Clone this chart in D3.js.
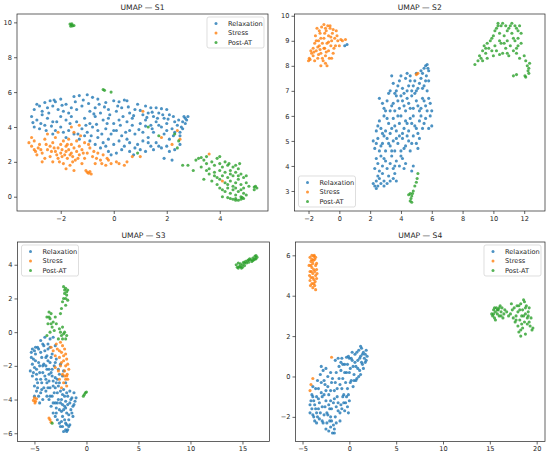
<!DOCTYPE html>
<html>
<head>
<meta charset="utf-8">
<script src="https://cdn.jsdelivr.net/npm/d3@7"></script>
<style>
  body { margin: 0; background: #fff; }
  svg text { font-family: "DejaVu Sans", sans-serif; fill: #262626; }
</style>
</head>
<body>
<div id="chart"></div>
<script>
// labels and colours
var groups = ["Relaxation", "Stress", "Post-AT"];
var colors = ["#1f77b4", "#ff7f0e", "#2ca02c"];
var titles = ["UMAP \u2014 S1", "UMAP \u2014 S2", "UMAP \u2014 S3", "UMAP \u2014 S4"];

// tick values per panel
var s1XTicks = [-2, 0, 2, 4], s1YTicks = [0, 2, 4, 6, 8, 10];
var s2XTicks = [-2, 0, 2, 4, 6, 8, 10, 12], s2YTicks = [3, 4, 5, 6, 7, 8, 9, 10];
var s3XTicks = [-5, 0, 5, 10, 15], s3YTicks = [-6, -4, -2, 0, 2, 4];
var s4XTicks = [-5, 0, 5, 10, 15, 20], s4YTicks = [-2, 0, 2, 4, 6];

// ---- S1 points ----
var s1Relax = [
[-2.6,5.4],[-2.4,5.5],[-2.2,5.45],[-2.0,5.6],[-1.8,5.3],[-1.5,5.75],[-1.3,5.8],[-1.0,5.85],[-0.8,5.7],[-0.6,5.6],[-0.3,5.4],[0,5.5],[0.2,5.45],[0.4,5.55],[0.5,5.5],[0.9,5.3],[1.2,5.2],[1.4,5.1],[1.6,5.1],[1.8,5.05],[2.0,5.0],
[-3.0,5.0],[-2.8,5.2],[-2.5,5.1],[-2.3,5.2],[-2.1,5.0],[-1.9,4.9],[-1.6,5.1],[-1.4,5.0],[-1.2,5.2],[-0.9,4.9],[-0.7,5.1],[-0.5,4.8],[-0.2,5.0],[0.1,4.9],[0.3,5.1],[0.6,4.8],[0.8,5.0],[1.1,4.7],[1.3,4.8],[1.5,4.6],[1.7,4.8],[1.9,4.5],[2.1,4.7],[2.3,4.3],
[-3.1,4.6],[-2.9,4.4],[-2.7,4.7],[-2.5,4.5],[-2.3,4.3],[-2.0,4.6],[-1.8,4.4],[-1.6,4.6],[-1.4,4.3],[-1.1,4.5],[-0.9,4.2],[-0.7,4.6],[-0.4,4.4],[-0.2,4.5],[0.0,4.2],[0.2,4.4],[0.5,4.3],[0.7,4.5],[1.0,4.2],[1.2,4.4],[1.4,4.1],[1.6,4.3],[1.8,4.0],[2.0,4.2],[2.2,3.9],[2.4,4.1],[2.6,4.3],[2.7,4.5],[2.75,4.4],[2.8,4.6],[2.65,4.6],[2.7,4.2],
[-3.0,4.0],[-2.8,3.9],[-2.6,4.1],[-2.2,3.8],[-2.0,4.0],[-1.7,3.8],[-1.5,3.6],[-1.2,3.9],[-1.0,3.7],[-0.8,4.0],[-0.6,3.8],[-0.3,3.9],[-0.1,3.6],[0.1,3.8],[0.3,3.5],[0.6,3.8],[0.8,3.6],[1.1,3.7],[1.3,3.4],[1.5,3.7],[1.9,3.6],[2.1,3.3],[2.3,3.7],[2.5,3.5],[2.6,3.9],
[-1.8,3.4],[-1.3,3.3],[-0.9,3.2],[-0.6,3.4],[-0.4,3.1],[-0.2,3.3],[0.0,3.0],[0.2,3.2],[0.4,2.9],[0.6,3.1],[0.9,3.0],[1.1,3.2],[1.4,2.9],[1.6,3.1],[1.8,2.8],[2.0,2.9],[2.3,2.7],[2.5,3.0],
[-0.5,2.8],[-0.2,2.6],[0.1,2.5],[0.3,2.7],[0.6,2.6],[0.8,2.8],[1.2,2.6],[1.5,2.7],[1.9,2.2],[2.2,2.1],[-0.1,2.4],
[-2.9,5.3],[-2.7,4.9],[-2.45,4.8],[-2.25,5.55],[-1.95,5.25],[-1.7,4.8],[-1.45,5.45],[-1.15,5.55],[-0.95,5.35],[-0.75,4.75],[-0.55,5.3],[-0.35,5.15],[-0.15,4.7],[0.15,5.2],[0.35,4.6],[0.55,5.15],[0.75,4.65],[1.0,4.95],[1.25,4.55],[1.45,4.85],[1.65,4.5],[1.85,4.7],[2.05,4.45],[2.25,4.6],[2.45,4.4],
[-3.05,4.25],[-2.75,4.2],[-2.55,3.8],[-2.35,4.05],[-2.15,4.3],[-1.9,3.7],[-1.65,4.2],[-1.35,3.6],[-1.05,4.1],[-0.85,3.5],[-0.65,4.15],[-0.45,3.6],[-0.25,4.2],[0.0,3.8],[0.25,4.1],[0.45,3.7],[0.7,4.1],[0.95,3.85],[1.2,4.05],[1.45,3.9],[1.7,4.1],[2.0,3.8],[2.25,3.5],[2.5,3.7],[2.55,4.0],
[-0.7,3.0],[-0.3,2.9],[0.5,3.3],[0.75,2.4],[1.0,2.7],[1.3,3.1],[1.7,2.9],[2.1,2.6],[-1.1,3.5],[-2.3,3.6]
];
var s1Stress = [
[-3.2,3.1],[-3.1,2.9],[-3.0,2.7],[-3.0,3.2],[-2.9,2.4],[-2.85,2.8],[-2.8,3.0],[-2.7,2.5],[-2.6,2.2],[-2.6,3.3],[-2.5,2.7],[-2.5,3.6],[-2.4,2.9],[-2.4,2.3],[-2.3,3.1],[-2.3,2.0],[-2.2,2.6],[-2.2,3.4],[-2.1,2.2],[-2.1,2.8],[-2.0,3.0],[-2.0,2.5],[-1.95,2.7],[-1.9,1.9],[-1.9,3.2],[-1.85,2.4],[-1.8,2.6],[-1.8,2.9],[-1.75,2.2],[-1.7,3.3],[-1.7,2.7],[-1.65,1.8],[-1.6,2.5],[-1.6,3.0],[-1.55,2.3],[-1.5,2.8],[-1.5,3.7],[-1.45,2.1],[-1.4,2.6],[-1.4,3.2],[-1.3,2.4],[-1.3,2.9],[-1.2,1.9],[-1.2,2.7],[-1.1,2.2],[-1.1,3.1],[-1.0,2.5],[-1.0,1.4],[-0.95,1.35],[-0.9,1.45],[-0.85,1.3],[-1.05,1.5],[-0.9,2.8],[-0.8,2.3],[-0.7,1.9],[-0.6,2.5],[-0.5,2.1],[-0.4,2.4],[-0.3,1.8],[-0.25,2.2],[-0.1,1.9],[0.1,2.0],[0.2,1.9],[0.4,1.8],[0.5,2.0],[0.7,2.3],[1.0,2.3],[-1.6,4.0],[-1.3,4.1],[1.1,4.9],[1.8,3.4],[2.2,3.0],[2.5,3.3],[2.4,3.8],[-2.1,3.7],[-1.8,1.6],[-1.5,1.5],[-2.7,2.0],[3.6,2.45],[4.1,0.9],
[-3.1,3.4],[-2.95,2.6],[-2.75,2.7],[-2.55,3.0],[-2.35,2.6],[-2.25,2.8],[-2.15,2.4],[-2.05,2.0],[-1.95,2.3],[-1.75,3.0],[-1.65,2.4],[-1.55,2.0],[-1.35,2.2],[-1.25,3.5],[-1.15,2.5],[-0.95,3.0],[-0.75,2.6],[-0.65,2.2],[-0.45,1.9],[-0.2,2.1]
];
var s1Post = [
[-1.65,9.9],[-1.6,9.85],[-1.55,9.8],[-1.5,9.82],[-1.62,9.78],[-1.58,9.92],
[-0.4,6.15],[-0.35,6.1],[-0.1,6.0],
[1.3,4.0],[1.7,3.5],[2.3,3.6],[2.4,2.8],[0.9,2.5],[2.45,3.2],
[2.6,1.8],[2.8,1.8],[3.0,1.5],[3.1,2.1],[3.2,2.2],[3.3,2.25],[3.4,2.1],[3.5,1.9],[3.3,1.7],[3.6,1.6],[3.7,2.0],[3.8,1.8],[3.9,2.2],[4.0,1.9],[3.6,1.3],[3.8,1.4],[3.9,1.1],[4.0,1.5],[4.1,1.7],[4.2,2.0],[4.3,1.8],[4.4,1.5],[4.5,1.7],[4.6,1.4],[4.7,1.6],[4.8,1.3],[4.9,1.1],[5.0,1.2],[3.9,0.7],[4.0,0.5],[4.1,1.2],[4.2,0.8],[4.3,1.1],[4.4,0.9],[4.5,1.2],[4.6,0.8],[4.7,1.0],[4.8,0.7],[4.9,0.5],[5.0,0.8],[5.1,0.6],[4.2,0.3],[4.3,0.5],[4.4,0.2],[4.5,0.4],[4.6,0.1],[4.7,0.3],[4.8,0.0],[4.9,0.2],[4.4,-0.1],[4.5,-0.15],[4.6,-0.1],[4.7,-0.2],[4.8,-0.15],[4.9,-0.1],[5.0,0.1],[5.3,0.55],[5.35,0.6],[5.4,0.5],[5.3,0.4],[4.1,0.0],[4.3,-0.05],[3.4,1.0],[3.7,0.9],[4.0,1.0],[4.2,1.4],[4.5,0.6],[4.75,1.9],[4.6,1.8],[3.5,2.3],
[3.5,1.5],[3.8,1.2],[4.1,0.4],[4.3,0.7],[4.6,0.5],[4.8,0.4],[4.4,1.3],[4.7,1.2],[4.6,-0.2],[4.85,-0.05],[4.35,1.9],[4.0,2.3]
];

// ---- S2 points ----
var s2Relax = [
[0.5,8.85],[0.35,8.8],
[2.2,3.3],[2.3,3.2],[2.4,3.4],[2.5,3.2],[2.6,3.5],[2.7,3.3],[2.9,3.4],[3.1,3.3],[3.3,3.4],[3.5,3.5],[3.7,3.4],[2.5,3.6],[2.8,3.7],
[2.3,3.9],[2.5,4.1],[2.6,3.8],[2.8,4.0],[2.9,4.3],[3.1,3.9],[3.3,4.1],[3.5,3.9],[3.7,4.2],[3.9,4.0],[4.1,4.3],[4.3,4.1],[2.7,4.4],[3.4,4.4],[4.8,4.0],[4.7,3.8],
[2.2,5.0],[2.3,4.7],[2.5,5.1],[2.6,4.6],[2.8,4.9],[3.0,4.6],[3.1,5.1],[3.3,4.8],[3.5,5.0],[3.6,4.6],[3.8,4.9],[4.0,4.6],[4.1,5.1],[4.3,4.8],[4.5,5.0],[4.6,4.6],[4.8,5.2],[5.0,4.9],[5.2,5.1],[3.9,5.2],[2.9,5.2],
[2.4,5.4],[2.6,5.8],[2.7,5.5],[2.9,6.0],[3.0,5.4],[3.2,5.7],[3.4,5.5],[3.5,5.9],[3.7,5.4],[3.9,5.7],[4.0,6.0],[4.2,5.5],[4.3,5.8],[4.5,5.4],[4.7,5.7],[4.8,6.0],[5.0,5.5],[5.2,5.8],[5.4,5.5],[5.6,5.9],[5.9,6.0],[6.0,5.6],
[2.6,6.7],[2.9,6.3],[3.1,6.6],[3.3,6.2],[3.5,6.5],[3.7,6.8],[3.9,6.3],[4.1,6.6],[4.3,6.2],[4.5,6.5],[4.7,6.8],[4.8,6.3],[5.0,6.6],[5.2,6.2],[5.4,6.7],[5.6,6.4],[5.8,6.7],[6.0,6.2],
[3.3,7.0],[3.5,7.3],[3.7,7.0],[3.9,7.4],[4.1,7.1],[4.3,7.5],[4.5,7.2],[4.7,7.0],[4.9,7.4],[5.1,7.1],[5.3,7.5],[5.5,7.2],[5.7,7.0],[5.8,7.4],[4.2,6.9],
[4.4,7.7],[4.6,7.6],[5.0,7.7],[5.3,7.8],[5.5,7.9],[5.6,8.0],[5.7,8.05],[5.8,7.8],[5.65,7.6],
[2.4,3.1],[2.9,3.2],[3.2,3.6],[3.6,3.7],[2.4,4.3],[3.0,4.2],[3.6,4.0],[4.0,4.4],[4.2,3.9],[2.4,4.9],[2.7,4.8],[3.2,4.9],[3.4,4.6],[3.7,5.1],[4.2,4.7],[4.4,5.2],[4.7,4.9],[5.1,4.7],
[2.5,5.6],[2.8,5.3],[3.1,5.9],[3.3,5.3],[3.6,5.6],[3.8,6.0],[4.1,5.3],[4.4,5.7],[4.6,5.9],[4.9,5.6],[5.1,5.3],[5.3,6.0],[5.5,5.7],[5.8,5.5],
[2.8,6.5],[3.0,6.2],[3.2,6.9],[3.4,6.4],[3.6,6.2],[3.8,6.6],[4.0,6.8],[4.2,6.4],[4.4,6.7],[4.6,6.3],[4.9,6.9],[5.1,6.4],[5.3,6.3],[5.5,6.6],[5.7,6.2],[5.9,6.5],
[3.4,7.6],[3.6,6.9],[3.8,7.2],[4.0,7.6],[4.4,7.0],[4.6,7.4],[4.8,7.2],[5.0,7.0],[5.2,7.3],[5.4,7.1],[5.6,7.4],[5.4,7.7],[5.75,7.9]
];
var s2Stress = [
[-2.0,8.2],[-1.95,8.3],[-1.9,8.25],[-1.8,8.5],[-1.7,8.4],[-1.7,8.7],[-1.6,8.9],[-1.55,9.2],[-1.5,8.6],[-1.45,9.5],[-1.4,8.3],[-1.35,9.0],[-1.3,8.8],[-1.25,9.3],[-1.2,8.5],[-1.15,9.55],[-1.1,8.9],[-1.05,8.2],[-1.0,9.65],[-1.0,9.1],[-0.95,8.7],[-0.9,8.4],[-0.85,9.4],[-0.8,8.0],[-0.8,8.9],[-0.75,9.6],[-0.7,8.6],[-0.7,9.2],[-0.65,8.3],[-0.6,9.5],[-0.55,8.8],[-0.5,9.0],[-0.45,9.3],[-0.4,8.5],[-0.3,9.1],[-0.25,8.8],[-0.2,9.4],[-0.1,9.0],[0.0,8.8],[0.1,9.05],[0.2,9.0],[0.4,9.05],[-0.9,8.1],[-1.2,8.0],[-1.6,8.2],[-1.3,9.4],[-0.5,8.3],[-1.0,8.7],[-0.6,9.6],[-1.4,8.75],
[-1.85,8.6],[-1.65,8.55],[-1.5,9.0],[-1.35,8.45],[-1.2,9.1],[-1.1,8.3],[-0.95,9.3],[-0.85,8.55],[-0.7,8.95],[-0.55,9.15],[-0.35,8.7],[-0.15,9.2],[-1.25,8.65],[-0.9,9.5],[-0.4,9.45],
[5.0,7.65],[5.1,7.7]
];
var s2Post = [
[4.6,2.6],[4.65,2.7],[4.7,2.8],[4.75,2.9],[4.8,3.0],[4.6,2.9],[4.5,2.85],[4.9,3.2],[5.0,3.35],[5.05,3.5],[5.1,3.7],[4.7,2.55],
[8.8,8.05],[9.0,8.2],[9.1,8.4],[9.2,8.3],[9.3,8.6],[9.4,8.8],[9.5,8.5],[9.6,8.9],[9.7,8.7],[9.8,9.0],[9.9,8.6],[10.0,9.2],[10.1,8.8],[10.2,9.5],[10.2,8.6],[10.3,9.7],[10.4,9.3],[10.5,8.9],[10.5,9.6],[10.6,8.5],[10.7,9.2],[10.8,9.6],[10.8,8.7],[10.9,9.0],[11.0,9.5],[11.0,8.4],[11.1,8.8],[11.2,9.3],[11.2,9.7],[11.3,8.6],[11.4,9.0],[11.4,9.6],[11.5,8.7],[11.6,9.4],[11.6,9.1],[11.7,9.6],[11.8,8.9],[11.5,8.5],[11.7,8.3],[12.0,8.4],[12.1,8.2],[12.2,8.0],[12.3,7.9],[12.35,8.1],[12.25,7.8],[12.3,7.7],[12.1,7.55],[12.05,7.6],[11.5,7.65],[11.3,7.6],[10.3,9.6],[10.6,9.7],[9.6,8.3],[10.0,8.4],[10.4,8.45],[9.3,8.2],
[9.5,8.7],[9.9,9.1],[10.1,9.4],[10.4,9.0],[10.7,8.9],[10.9,9.4],[11.1,9.6],[11.3,9.1],[11.5,9.5],[11.8,9.3],[10.9,8.5],[11.6,8.8]
];

// ---- S3 points ----
var s3Relax = [
[-5.2,-1.0],[-5.1,-1.6],[-5.0,-2.1],[-4.9,-1.3],[-4.8,-2.8],[-4.7,-0.9],[-4.7,-3.3],[-4.6,-1.8],[-4.5,-2.4],[-4.4,-1.2],[-4.3,-3.0],[-4.2,-2.0],[-4.1,-0.8],[-4.0,-2.6],[-3.9,-1.5],[-3.9,-3.5],[-3.8,-2.2],[-3.7,-1.0],[-3.6,-2.9],[-3.5,-1.8],[-3.5,-3.8],[-3.4,-2.4],[-3.3,-1.3],[-3.2,-3.2],[-3.1,-2.0],[-3.0,-4.2],[-3.0,-2.7],[-2.9,-1.6],[-2.8,-3.6],[-2.7,-2.2],[-2.6,-4.6],[-2.6,-3.0],[-2.5,-1.9],[-2.4,-4.0],[-2.3,-2.6],[-2.3,-5.0],[-2.2,-3.4],[-2.1,-4.4],[-2.0,-5.4],[-2.0,-3.0],[-1.9,-4.8],[-1.8,-5.8],[-1.8,-3.8],[-1.7,-5.2],[-1.6,-4.2],[-1.5,-4.6],[-1.4,-3.9],[-1.3,-4.4],[-1.1,-4.1],[-2.8,-5.2],[-2.5,-5.6],[-2.2,-5.9],[-1.9,-5.9],[-3.2,-4.8],[-3.4,-4.4],[-4.2,-4.0],[-4.6,-3.8],[-5.0,-3.2],[-5.3,-1.5],[-4.9,-0.9],[-4.4,-3.6],[-3.7,-3.3],[-3.3,-3.8],[-2.9,-4.5],[-2.5,-3.5],[-2.1,-3.8],[-1.6,-3.5],[-2.7,-4.0],[-3.6,-4.0],[-3.0,-3.3],[-4.1,-1.9],[-3.8,-1.4],[-3.5,-0.9],[-3.2,-0.3],[-4.4,-0.5],[-4.0,-0.3],[-2.2,-2.3],[-5.4,-2.3],[-5.2,-2.6],[-4.8,-2.2],[-1.9,-5.5],[-1.7,-5.6],[-2.4,-5.3],[-3.0,-5.0],[-2.3,-4.3],[-1.2,-3.6],[-4.5,-4.2],[-5.0,-3.8],[-3.3,-2.6],[-2.8,-2.8],[-3.6,-2.5],[-3.9,-2.8],[-2.0,-4.1],
[-5.3,-1.2],[-5.2,-1.9],[-5.1,-2.4],[-5.0,-1.1],[-4.9,-1.7],[-4.8,-2.5],[-4.7,-3.0],[-4.6,-1.0],[-4.5,-2.0],[-4.4,-2.8],[-4.3,-1.5],[-4.2,-2.4],[-4.1,-3.3],[-4.0,-1.1],[-3.9,-2.0],[-3.8,-3.0],[-3.7,-1.7],[-3.6,-2.2],[-3.5,-3.3],[-3.4,-1.5],[-3.3,-2.2],[-3.2,-2.9],[-3.1,-3.6],[-3.0,-1.8],[-2.9,-3.0],[-2.8,-4.2],[-2.7,-3.2],[-2.6,-2.5],[-2.5,-4.2],[-2.4,-4.7],[-2.3,-3.7],[-2.2,-4.6],[-2.1,-5.2],[-2.0,-4.5],[-1.9,-3.6],[-1.8,-4.3],[-1.7,-4.9],[-1.6,-5.5],[-1.5,-4.0],[-1.4,-4.8],[-2.6,-5.4],[-2.9,-4.8],[-3.2,-4.2],[-3.8,-3.8],[-4.3,-3.4],[-4.8,-3.5],[-1.2,-4.3],[-1.0,-3.9],[-1.3,-5.0],[-2.0,-5.8],[-2.3,-5.6],[-3.5,-0.4],[-3.7,-0.7],[-4.2,-0.7],[-3.0,-0.8]
];
var s3Stress = [
[-2.5,-0.6],[-2.3,-0.8],[-2.1,-1.0],[-2.0,-1.3],[-1.9,-1.6],[-1.8,-1.9],[-1.7,-2.2],[-1.85,-2.5],[-2.0,-2.8],[-2.2,-3.0],[-1.9,-3.2],[-2.4,-1.2],[-2.6,-1.5],[-2.8,-1.0],[-2.2,-1.7],[-2.5,-2.0],[-2.7,-2.3],[-3.0,-1.4],[-3.2,-1.1],[-3.4,-0.9],[-2.1,-2.3],[-2.3,-2.5],[-1.8,-2.8],[-2.9,-0.7],[-5.0,-3.9],[-4.9,-4.1],[-4.8,-3.95],[-5.1,-4.05],[-4.95,-4.2],[-3.5,-5.2],[-3.4,-5.35],[-3.6,-5.1],[-2.6,-2.8],[-2.4,-3.3],[-3.0,-2.1],
[-2.2,-1.4],[-2.0,-2.0],[-2.4,-1.8],[-1.9,-2.6],[-2.6,-1.1],[-2.1,-2.6]
];
var s3Post = [
[14.4,4.0],[14.5,3.85],[14.6,4.1],[14.7,3.9],[14.8,4.05],[14.9,3.8],[15.0,4.0],[15.1,4.15],[15.2,3.95],[15.3,4.2],[15.4,4.1],[15.5,4.25],[15.6,4.15],[15.8,4.3],[15.9,4.2],[16.0,4.4],[16.1,4.3],[16.2,4.5],[16.3,4.55],[16.4,4.45],[14.6,3.8],[15.0,3.85],[16.0,4.25],[15.7,4.35],[16.3,4.35],[15.2,4.1],[15.6,4.3],[14.8,3.9],[16.2,4.35],
[-2.2,2.7],[-2.0,2.6],[-1.8,2.5],[-2.1,2.3],[-1.9,2.2],[-2.2,2.0],[-1.8,1.9],[-2.3,1.8],[-2.0,1.6],[-2.4,1.4],[-2.5,1.1],[-3.6,1.2],[-3.4,1.1],[-3.8,0.9],[-3.5,0.8],[-3.2,0.6],[-3.7,0.5],[-3.3,0.3],[-3.0,0.9],[-3.5,0.0],[-3.8,-0.2],[-2.6,0.2],[-2.3,0.3],[-2.1,0.0],[-2.4,-0.2],[-2.0,-0.4],[-2.2,-0.1],[-2.7,-0.4],[-3.1,0.1],[-2.9,0.5],[-1.9,-0.2],
[-2.1,2.5],[-1.9,2.4],[-2.0,2.0],[-3.6,0.9],[-3.4,0.5],[-2.5,0.0],[-2.3,-0.4],
[-0.1,-3.6],[-0.2,-3.7],[-0.3,-3.8],[0.0,-3.55],[-3.3,-5.4]
];

// ---- S4 points ----
var s4Relax = [
[-4.1,-1.2],[-4.0,-1.6],[-3.9,-1.0],[-3.8,-2.0],[-3.7,-1.4],[-3.6,-0.6],[-3.5,-1.8],[-3.4,-0.2],[-3.3,-1.1],[-3.2,-2.1],[-3.1,0.1],[-3.0,-0.8],[-2.9,-1.5],[-2.8,0.3],[-2.7,-1.9],[-2.6,-0.4],[-2.5,-1.2],[-2.4,-2.3],[-2.3,0.0],[-2.2,-0.9],[-2.1,-1.6],[-2.0,-2.5],[-1.9,-0.3],[-1.8,-2.8],[-1.7,-1.3],[-1.6,-0.7],[-1.5,-2.0],[-1.4,0.2],[-1.3,-1.0],[-1.2,-1.7],[-1.1,0.5],[-1.0,-0.4],[-0.9,-1.4],[-0.8,0.9],[-0.7,-0.1],[-0.6,-0.9],[-0.5,0.6],[-0.4,-1.3],[-0.3,0.2],[-0.2,-0.6],[-0.1,1.0],[0.0,-1.2],[0.1,0.4],[0.2,-0.2],[0.3,0.8],[0.5,0.1],[0.6,1.1],[0.7,0.5],[0.8,-0.1],[0.9,0.8],[1.0,1.3],[1.1,0.3],[1.2,1.0],[1.3,1.4],[1.4,0.6],[1.5,1.2],[1.6,0.9],[1.7,1.1],[1.8,0.8],[1.9,1.0],[1.2,0.1],[0.4,-0.5],[-0.5,-1.7],[-1.0,-2.2],[-1.6,-2.6],[-2.3,-1.9],[-2.9,-2.2],[-3.5,-2.3],[-3.9,-0.5],[-3.0,0.5],[-2.5,0.4],[-2.0,0.2],[-1.5,0.8],[-1.2,0.9],[-0.9,0.7],[-0.3,0.95],[0.0,0.9],[-2.2,-2.7],[-1.9,-2.2],[-3.3,-1.6],[-2.7,-0.9],[-2.0,-1.2],[-1.4,-1.5],[-0.7,-1.0],[-0.2,-1.5],[-0.1,-1.8],[0.3,1.2],[-2.5,-2.6],[-3.7,-2.2],[-4.2,-1.8],
[-4.2,-1.4],[-4.0,-0.9],[-3.9,-1.9],[-3.8,-1.2],[-3.6,-1.6],[-3.5,-1.0],[-3.4,-2.0],[-3.3,-0.6],[-3.2,-1.3],[-3.1,-1.8],[-3.0,-0.3],[-2.9,-1.0],[-2.8,-2.3],[-2.7,-0.2],[-2.6,-1.5],[-2.5,-0.7],[-2.4,-1.8],[-2.3,-0.5],[-2.2,-1.4],[-2.1,-2.2],[-2.0,-0.7],[-1.9,-1.6],[-1.8,-0.1],[-1.7,-2.4],[-1.6,-1.1],[-1.5,-0.3],[-1.4,-2.3],[-1.3,-0.6],[-1.2,-1.3],[-1.1,-0.1],[-1.0,-1.8],[-0.9,0.3],[-0.8,-0.6],[-0.7,0.6],[-0.6,-1.3],[-0.5,0.2],[-0.4,-0.3],[-0.3,-1.0],[-0.2,0.6],[-0.1,-0.9],[0.0,0.2],[0.1,-0.3],[0.2,0.9],[0.4,0.5],[0.5,-0.2],[0.6,0.7],[0.8,1.2],[0.9,0.4],[1.0,0.0],[1.1,0.9],[1.3,0.7],[1.4,1.1],[1.5,0.4],[1.7,0.7],[1.8,1.3],[1.2,1.5],[-1.6,-2.8],[-2.0,-2.0],[-0.8,-1.6],[0.7,-0.2]
];
var s4Stress = [
[-4.2,5.9],[-4.0,6.0],[-3.8,5.95],[-3.7,5.8],[-4.1,5.7],[-3.9,5.6],[-3.6,5.5],[-4.3,5.5],[-4.0,5.4],[-3.5,5.3],[-3.8,5.3],[-4.2,5.2],[-3.9,5.1],[-3.6,5.0],[-4.1,4.9],[-3.8,4.8],[-3.5,4.85],[-4.0,4.6],[-3.7,4.5],[-3.9,4.4],[-3.6,4.3],[-4.2,4.75],[-3.5,5.6],[-3.75,6.0],[-4.05,5.2],[-3.65,4.7],[-4.25,5.0],[-3.85,5.75],[-3.45,5.1],[-4.15,4.5],
[-4.1,5.5],[-3.7,5.2],[-3.9,4.9],[-3.6,5.9],[-4.0,5.8],[-3.8,4.6],
[-1.9,0.95],[-3.9,-0.1],[-4.1,-0.4],[-4.2,-0.7]
];
var s4Post = [
[15.2,3.1],[15.3,3.0],[15.4,3.3],[15.5,2.9],[15.6,3.2],[15.7,3.4],[15.8,3.1],[15.9,3.3],[16.0,3.0],[16.1,3.5],[16.2,3.2],[16.3,3.4],[16.5,3.1],[16.6,3.3],[16.8,3.2],[17.0,3.0],[17.2,3.1],[17.4,3.3],[17.5,2.9],[17.6,3.4],[17.7,2.7],[17.8,3.0],[17.9,3.5],[18.0,2.5],[18.0,3.2],[18.1,2.2],[18.2,2.8],[18.3,3.6],[18.4,3.0],[18.5,2.4],[18.5,3.3],[18.6,3.8],[18.7,2.7],[18.8,3.1],[18.9,3.5],[19.0,2.6],[19.1,3.0],[19.2,3.4],[19.3,2.5],[19.4,2.9],[19.5,2.3],[19.6,2.4],[18.3,2.0],[18.7,3.7],[17.3,3.6],[16.4,2.9],[15.6,2.8],[18.8,2.1],[19.1,3.2],[18.1,3.5],
[15.4,3.1],[15.5,3.4],[15.8,3.3],[16.0,3.4],[16.2,3.0],[17.8,2.8],[18.2,3.3],[18.4,2.6],[18.6,3.0],[18.8,3.4],[19.0,2.9],[19.2,2.7],[18.3,2.3]
];

// panel layout (pixels) and axis ranges
var panels = [
  {box: [17, 14, 268, 211], xd: [-3.65, 5.82], yd: [-0.82, 10.48], xt: s1XTicks, yt: s1YTicks,
   series: [s1Relax, s1Stress, s1Post], legend: "ur"},
  {box: [294.5, 14, 545, 211], xd: [-2.91, 13.35], yd: [2.2, 10.07], xt: s2XTicks, yt: s2YTicks,
   series: [s2Relax, s2Stress, s2Post], legend: "ll"},
  {box: [17.5, 242, 269.5, 441.5], xd: [-6.63, 17.6], yd: [-6.49, 5.35], xt: s3XTicks, yt: s3YTicks,
   series: [s3Relax, s3Stress, s3Post], legend: "ul"},
  {box: [295.5, 242, 545, 441.5], xd: [-5.75, 20.89], yd: [-3.22, 6.66], xt: s4XTicks, yt: s4YTicks,
   series: [s4Relax, s4Stress, s4Post], legend: "ur"}
];

var svg = d3.select("#chart").append("svg")
  .attr("width", 550)
  .attr("height", 456);

panels.forEach(function(p, i) {
  var x0 = p.box[0], y0 = p.box[1], x1 = p.box[2], y1 = p.box[3];
  var x = d3.scaleLinear().domain(p.xd).range([x0, x1]);
  var y = d3.scaleLinear().domain(p.yd).range([y1, y0]);

  var g = svg.append("g");

  // points, one group after the other so green ends up on top
  p.series.forEach(function(pts, k) {
    g.append("g").selectAll("circle")
      .data(pts)
      .enter().append("circle")
        .attr("cx", function(d) { return x(d[0]); })
        .attr("cy", function(d) { return y(d[1]); })
        .attr("r", 1.55)
        .attr("fill", colors[k])
        .attr("fill-opacity", 0.8);
  });

  // axes
  var ax = g.append("g")
    .attr("transform", "translate(0," + y1 + ")")
    .call(d3.axisBottom(x).tickValues(p.xt).tickSize(3).tickPadding(2).tickFormat(d3.format("d")));
  var ay = g.append("g")
    .attr("transform", "translate(" + x0 + ",0)")
    .call(d3.axisLeft(y).tickValues(p.yt).tickSize(3).tickPadding(2).tickFormat(d3.format("d")));
  [ax, ay].forEach(function(a) {
    a.select(".domain").remove();
    a.selectAll("line").attr("stroke", "#222").attr("stroke-width", 0.7);
    a.selectAll("text").style("font-size", "6.6px").attr("fill", "#262626");
  });
  // matplotlib style minus sign
  ax.selectAll("text").text(function(d) { return d < 0 ? "\u2212" + Math.abs(d) : d; });
  ay.selectAll("text").text(function(d) { return d < 0 ? "\u2212" + Math.abs(d) : d; });

  // frame
  g.append("rect")
    .attr("x", x0).attr("y", y0)
    .attr("width", x1 - x0).attr("height", y1 - y0)
    .attr("fill", "none")
    .attr("stroke", "#222")
    .attr("stroke-width", 0.7);

  // title
  g.append("text")
    .attr("x", (x0 + x1) / 2)
    .attr("y", y0 - 4)
    .attr("text-anchor", "middle")
    .style("font-size", "7.6px")
    .text(titles[i]);

  // legend
  var lw = 57, lh = 31;
  var lx = p.legend === "ur" ? x1 - lw - 4 : x0 + 4;
  var ly = p.legend === "ll" ? y1 - lh - 4 : y0 + 3;
  var lg = g.append("g").attr("transform", "translate(" + lx + "," + ly + ")");
  lg.append("rect")
    .attr("width", lw).attr("height", lh)
    .attr("rx", 2)
    .attr("fill", "#fff").attr("fill-opacity", 0.8)
    .attr("stroke", "#d0d0d0").attr("stroke-width", 0.7);
  groups.forEach(function(name, k) {
    lg.append("circle")
      .attr("cx", 9).attr("cy", 6.5 + k * 9.5)
      .attr("r", 1.5)
      .attr("fill", colors[k]).attr("fill-opacity", 0.8);
    lg.append("text")
      .attr("x", 21).attr("y", 6.5 + k * 9.5)
      .attr("dy", "0.35em")
      .style("font-size", "6.6px")
      .text(name);
  });
});
</script>
</body>
</html>
